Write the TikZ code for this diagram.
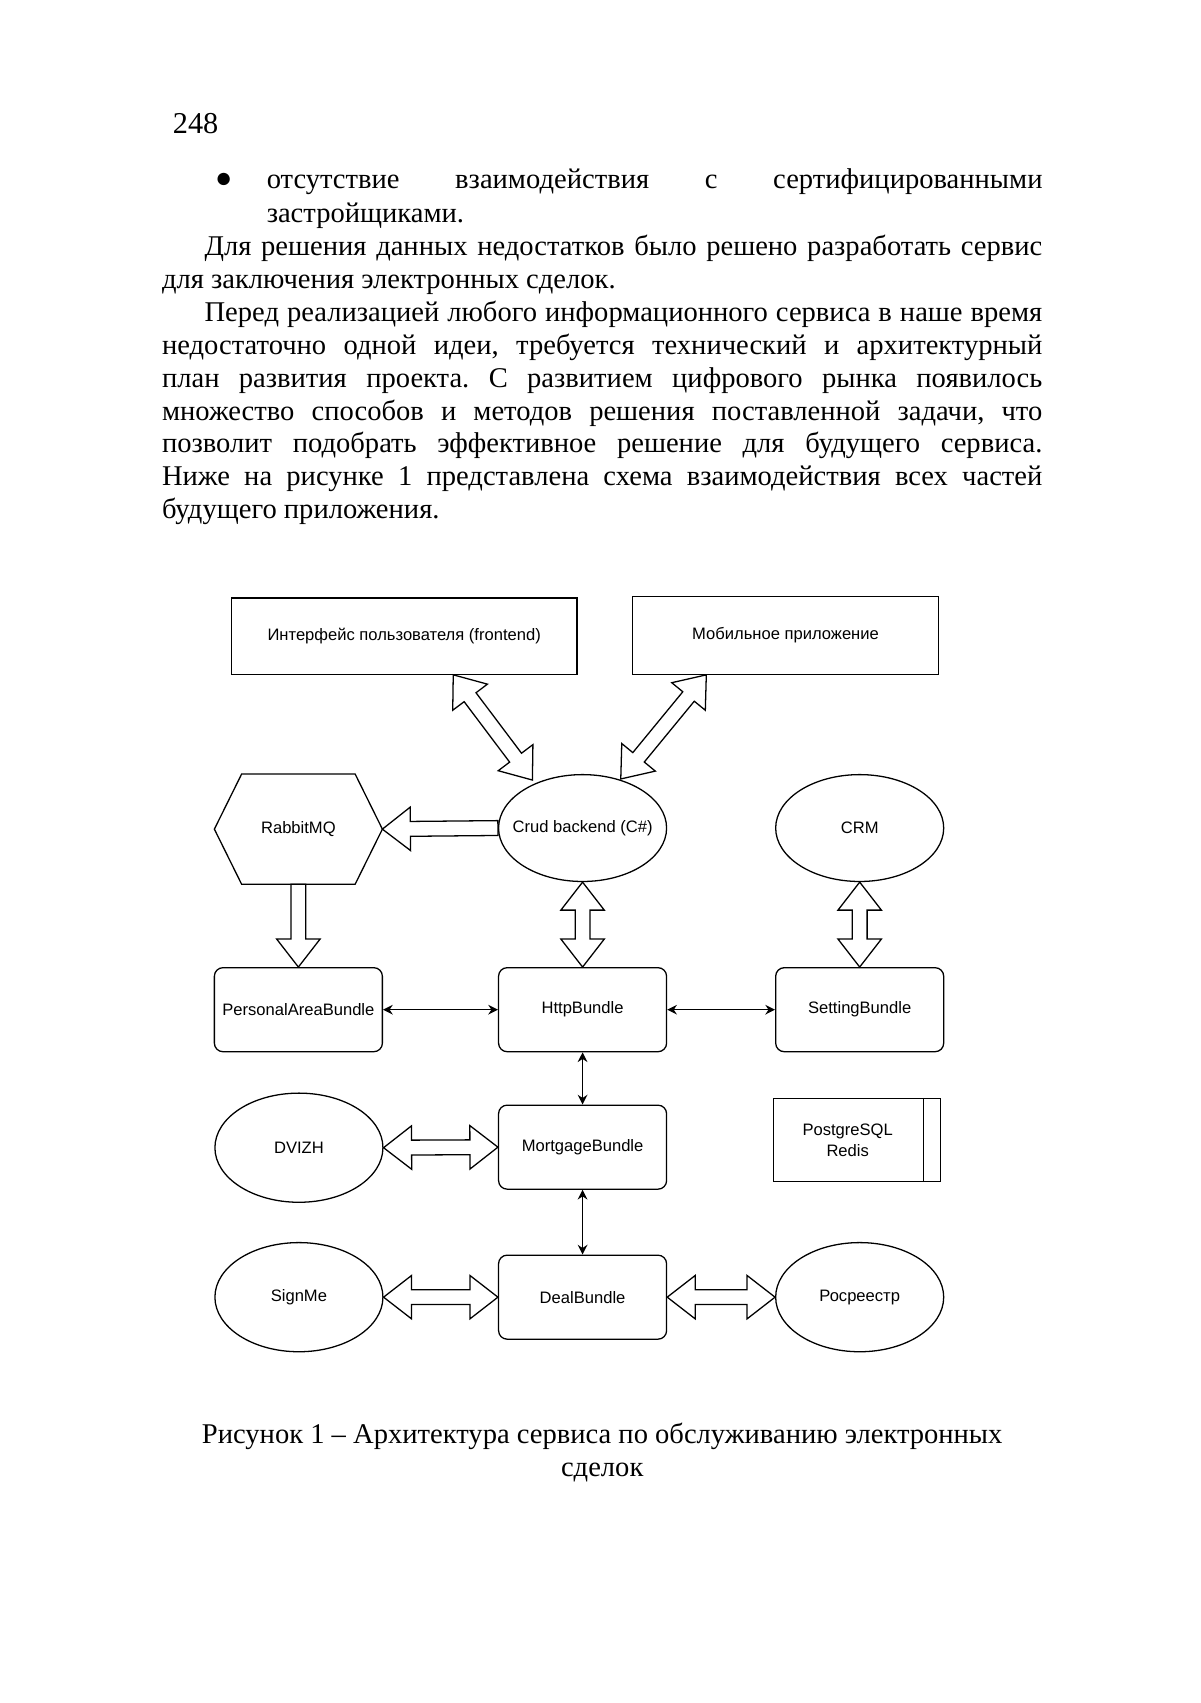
\documentclass[tikz,border=0pt]{standalone}
\usepackage{fontspec}
\setmainfont{Liberation Serif}
\setsansfont{Liberation Sans}
\usetikzlibrary{shapes.geometric,calc,arrows.meta}
\frenchspacing
\newcommand\dfont{\sffamily\fontsize{5.8}{7.25}\selectfont}
\newcommand\bfnt{\rmfamily\fontsize{10}{11.57}\selectfont}
\def\bkh{9.8pt}\def\bkw{7.6pt}\def\bks{2.6pt}
\newcommand\dblk[2]{%
 \draw[blk] (#1)
  -- ($(#1)!\bkh!(#2)!\bkw!90:(#2)$)
  -- ($(#1)!\bkh!(#2)!\bks!90:(#2)$)
  -- ($(#2)!\bkh!(#1)!\bks!-90:(#1)$)
  -- ($(#2)!\bkh!(#1)!\bkw!-90:(#1)$)
  -- (#2)
  -- ($(#2)!\bkh!(#1)!\bkw!90:(#1)$)
  -- ($(#2)!\bkh!(#1)!\bks!90:(#1)$)
  -- ($(#1)!\bkh!(#2)!\bks!-90:(#2)$)
  -- ($(#1)!\bkh!(#2)!\bkw!-90:(#2)$)
  -- cycle;}
\newcommand\sblk[2]{%
 \draw[blk] ($(#1)!\bks!90:(#2)$)
  -- ($(#2)!\bkh!(#1)!\bks!-90:(#1)$)
  -- ($(#2)!\bkh!(#1)!\bkw!-90:(#1)$)
  -- (#2)
  -- ($(#2)!\bkh!(#1)!\bkw!90:(#1)$)
  -- ($(#2)!\bkh!(#1)!\bks!90:(#1)$)
  -- ($(#1)!\bks!-90:(#2)$)
  -- cycle;}
\begin{document}
\begin{tikzpicture}[x=0.3818pt,y=-0.3818pt,
  tl/.style={anchor=base west, inner sep=0pt, font=\bfnt},
  captext/.style={anchor=base, inner sep=0pt, font=\bfnt},
  box/.style={draw, rectangle, line width=0.45pt, inner sep=0pt, font=\dfont},
  rbox/.style={box, rounded corners=3pt, minimum width=58.8pt, minimum height=29.4pt},
  ell/.style={draw, ellipse, line width=0.45pt, inner sep=0pt, minimum width=58.8pt, minimum height=38.2pt},
  blk/.style={draw, line width=0.45pt, line join=miter, fill=white},
  tharrow/.style={line width=0.45pt, {Stealth[length=3.4pt,width=3.4pt]}-{Stealth[length=3.4pt,width=3.4pt]}}]
\useasboundingbox[fill=white] (0,0) rectangle (1100,1561);

% ---- text ----
\node[anchor=base west, inner sep=0pt, font=\rmfamily\fontsize{10.6}{12}\selectfont] (pnum) at (158,122) {248};
\node[anchor=base, inner sep=0pt, font=\rmfamily\fontsize{10}{11}\selectfont] (bul) at (205,172) {●};
\node[tl] (l1) at (244,173) {\makebox[271.5pt][s]{отсутствие взаимодействия с сертифицированными}};
\node[tl] (l2) at (244,204) {застройщиками.};
\node[tl] (l3) at (187,234) {\makebox[293.2pt][s]{Для решения данных недостатков было решено разработать сервис}};
\node[tl] (l4) at (148,264) {для заключения электронных сделок.};
\node[tl] (l5) at (187,294.5) {\makebox[293.2pt][s]{Перед реализацией любого информационного сервиса в наше время}};
\node[tl] (l6) at (148,324.5) {\makebox[308.1pt][s]{недостаточно одной идеи, требуется технический и архитектурный}};
\node[tl] (l7) at (148,355) {\makebox[308.1pt][s]{план развития проекта. С развитием цифрового рынка появилось}};
\node[tl] (l8) at (148,385) {\makebox[308.1pt][s]{множество способов и методов решения поставленной задачи, что}};
\node[tl] (l9) at (148,415) {\makebox[308.1pt][s]{позволит подобрать эффективное решение для будущего сервиса.}};
\node[tl] (l10) at (148,445) {\makebox[308.1pt][s]{Ниже на рисунке 1 представлена схема взаимодействия всех частей}};
\node[tl] (l11) at (148,475) {будущего приложения.};
\node[captext] (c1) at (552,1323) {Рисунок 1 – Архитектура сервиса по обслуживанию электронных};
\node[captext] (c2) at (552,1353) {сделок};

% ---- diagram nodes ----
\node[box, minimum width=121pt, minimum height=26.7pt] (fe) at (370.5,583) {Интерфейс пользователя (frontend)};
\node[box, minimum width=106.9pt, minimum height=27.1pt] (mob) at (720,582.5) {Мобильное приложение};

\node[rectangle, inner sep=0pt, font=\dfont, minimum width=58.4pt, minimum height=38.2pt] (rabbit) at (273.5,760) {RabbitMQ};
\draw[line width=0.45pt] (rabbit.west) -- ($(rabbit.north west)+(25,0)$) -- ($(rabbit.north east)+(-25,0)$)
  -- (rabbit.east) -- ($(rabbit.south east)+(-25,0)$) -- ($(rabbit.south west)+(25,0)$) -- cycle;
\node[ell, minimum height=37.4pt, label={[font=\dfont]center:Crud backend (C\#)}] (crud) at (534,759) {};
\node[ell, minimum height=37.4pt, label={[font=\dfont]center:CRM}] (crm) at (788,759) {};

\node[rbox] (pa) at (273.5,925.5) {PersonalAreaBundle};
\node[rbox] (http) at (534,925.5) {HttpBundle};
\node[rbox] (set) at (788,925.5) {SettingBundle};

\node[ell, label={[font=\dfont]center:DVIZH}] (dvizh) at (274,1052) {};
\node[rbox] (mort) at (534,1051.5) {MortgageBundle};
\node[box, minimum width=58.4pt, minimum height=29pt] (pg) at (785.5,1045) {};
\draw[line width=0.45pt] ($(pg.north east)+(-16,0)$) -- ($(pg.south east)+(-16,0)$);
\node[inner sep=0pt, font=\dfont, align=center] (pgt) at ($(pg.center)+(-8.5,0)$) {PostgreSQL\\Redis};

\node[ell, label={[font=\dfont]center:SignMe}] (sign) at (274,1189) {};
\node[rbox] (deal) at (534,1189) {DealBundle};
\node[ell, label={[font=\dfont]center:Росреестр}] (ros) at (788,1189) {};

% ---- connector end points ----
\coordinate (feA) at ($(fe.south west)+(204,0)$);
\coordinate (crA) at ($(crud.center)+(-46,-44)$);
\coordinate (mobA) at ($(mob.south west)+(68,0)$);
\coordinate (crB) at ($(crud.center)+(35,-45)$);

% ---- block arrows ----
\dblk{feA}{crA}
\dblk{mobA}{crB}
\sblk{crud.west}{rabbit.east}
\sblk{rabbit.south}{pa.north}
\dblk{crud.south}{http.north}
\dblk{crm.south}{set.north}
\dblk{dvizh.east}{mort.west}
\dblk{sign.east}{deal.west}
\dblk{deal.east}{ros.west}

% ---- thin arrows ----
\draw[tharrow] (pa.east) -- (http.west);
\draw[tharrow] (http.east) -- (set.west);
\draw[tharrow] (http.south) -- (mort.north);
\draw[tharrow] (mort.south) -- (deal.north);
\end{tikzpicture}
\end{document}
